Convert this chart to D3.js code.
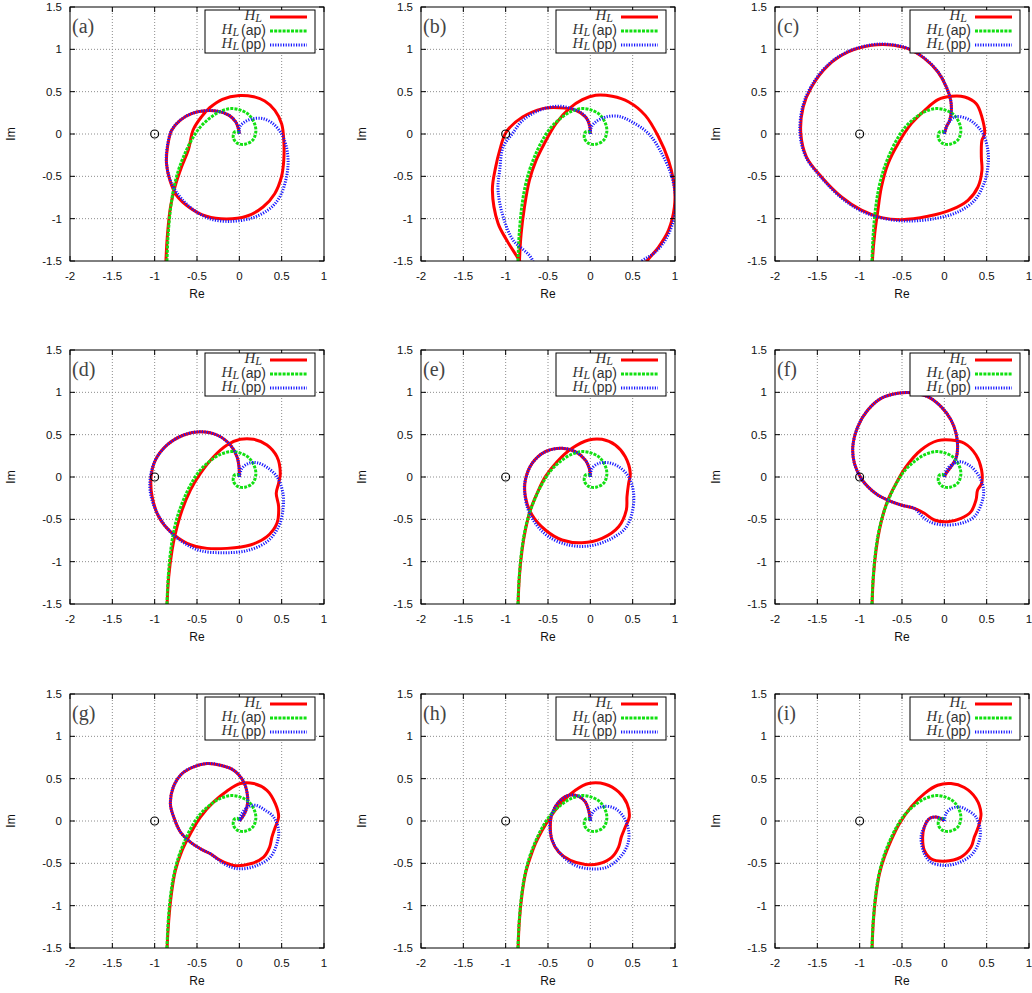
<!DOCTYPE html>
<html>
<head>
<meta charset="utf-8">
<script src="https://cdn.jsdelivr.net/npm/d3@7"></script>
<style>
  body { margin: 0; background: #fff; }
  svg { display: block; }
</style>
</head>
<body>
<div id="chart"></div>
<script>
// Axis ticks
const xTicks = [-2, -1.5, -1, -0.5, 0, 0.5, 1];
const yTicks = [-1.5, -1, -0.5, 0, 0.5, 1, 1.5];
const panelLabels = ["(a)", "(b)", "(c)", "(d)", "(e)", "(f)", "(g)", "(h)", "(i)"];

// H_L(ap) - same in every panel
const apCurve = [[-0.86,-1.65],[-0.855,-1.5],[-0.84,-1.18],[-0.81,-0.86],[-0.77,-0.62],[-0.72,-0.43],[-0.66,-0.27],[-0.58,-0.1],[-0.48,0.06],[-0.37,0.17],[-0.24,0.26],[-0.1,0.3],[0.02,0.28],[0.12,0.22],[0.18,0.12],[0.195,0.03],[0.16,-0.07],[0.07,-0.12],[-0.02,-0.11],[-0.07,-0.05],[-0.06,0.02],[-0.02,0.03],[0,0]];

// H_L per panel
const hlA = [[-0.87,-1.65],[-0.867,-1.5],[-0.848,-1.177],[-0.813,-0.862],[-0.761,-0.626],[-0.683,-0.39],[-0.6,-0.18],[-0.545,0.05],[-0.45,0.2],[-0.35,0.31],[-0.2,0.41],[0,0.455],[0.17,0.44],[0.3,0.39],[0.42,0.28],[0.5,0.12],[0.525,-0.075],[0.525,-0.31],[0.497,-0.508],[0.418,-0.705],[0.28,-0.862],[0.084,-0.972],[-0.152,-1.004],[-0.388,-0.972],[-0.585,-0.87],[-0.742,-0.724],[-0.82,-0.547],[-0.86,-0.35],[-0.848,-0.154],[-0.8,0.043],[-0.7,0.161],[-0.565,0.24],[-0.41,0.275],[-0.26,0.27],[-0.12,0.22],[-0.042,0.142],[-0.011,0.063],[0,0.004]];
const hlB = [[-0.84,-1.65],[-0.837,-1.5],[-0.817,-1.177],[-0.778,-0.862],[-0.72,-0.547],[-0.641,-0.311],[-0.544,-0.114],[-0.407,0.122],[-0.25,0.3],[-0.094,0.405],[0.063,0.457],[0.258,0.445],[0.454,0.378],[0.649,0.22],[0.806,-0.035],[0.923,-0.311],[0.993,-0.626],[0.993,-0.862],[0.923,-1.138],[0.806,-1.335],[0.669,-1.5],[0.5,-1.75],[-0.2,-2.2],[-0.7,-1.75],[-0.835,-1.5],[-0.99,-1.25],[-1.09,-1.055],[-1.157,-0.66],[-1.12,-0.4],[-1.07,-0.19],[-0.993,0.024],[-0.8,0.2],[-0.563,0.3],[-0.368,0.31],[-0.172,0.28],[-0.055,0.2],[-0.008,0.102],[0,0]];
const hlC = [[-0.85,-1.65],[-0.849,-1.5],[-0.822,-1.177],[-0.79,-0.94],[-0.743,-0.626],[-0.665,-0.35],[-0.547,-0.114],[-0.39,0.122],[-0.232,0.28],[-0.075,0.405],[0.083,0.445],[0.24,0.437],[0.377,0.358],[0.444,0.2],[0.476,0.004],[0.444,-0.075],[0.437,-0.27],[0.444,-0.43],[0.397,-0.626],[0.279,-0.783],[0.083,-0.894],[-0.193,-0.972],[-0.507,-1.012],[-0.743,-0.988],[-0.979,-0.9],[-1.215,-0.744],[-1.451,-0.508],[-1.628,-0.272],[-1.695,0.004],[-1.667,0.319],[-1.569,0.555],[-1.372,0.811],[-1.136,0.969],[-0.861,1.047],[-0.665,1.055],[-0.429,1.008],[-0.232,0.89],[-0.075,0.732],[0.024,0.555],[0.075,0.398],[0.083,0.28],[0.063,0.161],[0.024,0.083],[0,0]];
const hlD = [[-0.855,-1.65],[-0.853,-1.5],[-0.834,-1.177],[-0.794,-0.862],[-0.755,-0.665],[-0.676,-0.39],[-0.578,-0.154],[-0.46,0.043],[-0.303,0.24],[-0.145,0.378],[0.012,0.445],[0.169,0.445],[0.326,0.378],[0.444,0.24],[0.484,0.043],[0.464,-0.075],[0.436,-0.193],[0.464,-0.35],[0.444,-0.547],[0.326,-0.705],[0.13,-0.803],[-0.145,-0.843],[-0.381,-0.843],[-0.617,-0.783],[-0.814,-0.646],[-0.952,-0.469],[-1.03,-0.232],[-1.042,0.004],[-0.991,0.2],[-0.853,0.378],[-0.657,0.496],[-0.46,0.535],[-0.263,0.496],[-0.106,0.378],[-0.028,0.24],[-0.004,0.122],[0,0]];
const hlE = [[-0.855,-1.65],[-0.853,-1.5],[-0.838,-1.177],[-0.806,-0.862],[-0.767,-0.626],[-0.708,-0.39],[-0.629,-0.193],[-0.531,0.004],[-0.393,0.181],[-0.216,0.339],[-0.02,0.437],[0.138,0.445],[0.295,0.378],[0.413,0.24],[0.472,0.043],[0.452,-0.075],[0.433,-0.232],[0.425,-0.39],[0.334,-0.587],[0.138,-0.724],[-0.098,-0.776],[-0.334,-0.744],[-0.531,-0.626],[-0.688,-0.449],[-0.767,-0.232],[-0.767,-0.035],[-0.688,0.161],[-0.531,0.299],[-0.334,0.339],[-0.177,0.299],[-0.059,0.2],[-0.012,0.102],[0,0]];
const hlF = [[-0.855,-1.65],[-0.853,-1.5],[-0.838,-1.177],[-0.806,-0.862],[-0.767,-0.626],[-0.708,-0.39],[-0.649,-0.232],[-0.57,-0.075],[-0.452,0.122],[-0.275,0.319],[-0.079,0.429],[0.079,0.437],[0.236,0.398],[0.374,0.26],[0.44,0.083],[0.44,-0.075],[0.393,-0.154],[0.374,-0.272],[0.315,-0.409],[0.197,-0.488],[0.039,-0.528],[-0.118,-0.508],[-0.236,-0.429],[-0.354,-0.37],[-0.511,-0.331],[-0.669,-0.272],[-0.786,-0.213],[-0.904,-0.114],[-0.983,-0.016],[-1.062,0.161],[-1.081,0.358],[-1.022,0.594],[-0.904,0.791],[-0.747,0.929],[-0.551,0.988],[-0.393,0.996],[-0.197,0.949],[-0.039,0.831],[0.079,0.673],[0.138,0.516],[0.157,0.358],[0.138,0.22],[0.079,0.122],[0.02,0.043],[0,0]];
const hlG = [[-0.855,-1.65],[-0.853,-1.5],[-0.834,-1.176],[-0.802,-0.86],[-0.755,-0.584],[-0.676,-0.347],[-0.578,-0.15],[-0.46,0.047],[-0.303,0.225],[-0.145,0.355],[0.012,0.442],[0.169,0.442],[0.326,0.363],[0.425,0.205],[0.464,0.047],[0.425,-0.071],[0.385,-0.19],[0.358,-0.308],[0.287,-0.426],[0.13,-0.505],[-0.067,-0.525],[-0.224,-0.466],[-0.342,-0.387],[-0.46,-0.328],[-0.578,-0.249],[-0.696,-0.13],[-0.775,0.047],[-0.814,0.2],[-0.78,0.4],[-0.676,0.561],[-0.539,0.64],[-0.381,0.679],[-0.224,0.659],[-0.067,0.6],[0.051,0.462],[0.098,0.284],[0.09,0.166],[0.051,0.067],[0,0]];
const hlH = [[-0.855,-1.65],[-0.853,-1.5],[-0.838,-1.176],[-0.806,-0.86],[-0.767,-0.624],[-0.708,-0.426],[-0.649,-0.268],[-0.57,-0.111],[-0.472,0.047],[-0.334,0.225],[-0.177,0.363],[-0.02,0.442],[0.177,0.434],[0.334,0.343],[0.433,0.205],[0.46,0.047],[0.413,-0.071],[0.366,-0.19],[0.334,-0.308],[0.256,-0.426],[0.098,-0.505],[-0.059,-0.513],[-0.236,-0.466],[-0.374,-0.367],[-0.452,-0.229],[-0.472,-0.071],[-0.452,0.087],[-0.374,0.225],[-0.256,0.304],[-0.138,0.292],[-0.059,0.225],[-0.02,0.126],[0,0]];
const hlI = [[-0.855,-1.65],[-0.853,-1.5],[-0.838,-1.176],[-0.806,-0.86],[-0.767,-0.624],[-0.708,-0.426],[-0.629,-0.229],[-0.531,-0.032],[-0.393,0.166],[-0.236,0.324],[-0.079,0.422],[0.079,0.442],[0.236,0.395],[0.374,0.265],[0.433,0.087],[0.401,-0.071],[0.354,-0.19],[0.315,-0.308],[0.197,-0.426],[0,-0.474],[-0.157,-0.446],[-0.236,-0.347],[-0.256,-0.19],[-0.236,-0.071],[-0.177,0.028],[-0.098,0.047],[-0.039,0.028],[0,0]];

// H_L(pp) per panel
const ppA = [[0,0],[0.005,0.083],[0.064,0.142],[0.162,0.181],[0.28,0.181],[0.398,0.122],[0.497,0.004],[0.556,-0.154],[0.576,-0.35],[0.548,-0.547],[0.477,-0.744],[0.36,-0.882],[0.162,-0.988],[-0.074,-1.031],[-0.31,-1.012],[-0.506,-0.921],[-0.683,-0.764],[-0.8,-0.587],[-0.86,-0.35],[-0.852,-0.154],[-0.8,0.043],[-0.7,0.161],[-0.565,0.24],[-0.41,0.275],[-0.26,0.27],[-0.12,0.22],[-0.042,0.142],[-0.011,0.063],[0,0.004]];
const ppB = [[0,0],[0.012,0.083],[0.063,0.142],[0.18,0.2],[0.336,0.209],[0.493,0.142],[0.688,0.004],[0.845,-0.232],[0.962,-0.508],[1.009,-0.783],[0.982,-1.02],[0.884,-1.256],[0.747,-1.413],[0.61,-1.5],[0.4,-1.75],[-0.2,-2.1],[-0.6,-1.75],[-0.7,-1.46],[-0.914,-1.25],[-1.03,-0.977],[-1.09,-0.66],[-1.07,-0.425],[-1.03,-0.154],[-0.915,0.012],[-0.8,0.16],[-0.6,0.28],[-0.407,0.327],[-0.25,0.31],[-0.094,0.24],[-0.023,0.142],[0,0.02]];
const ppC = [[0,0],[0.043,0.122],[0.122,0.2],[0.24,0.193],[0.358,0.122],[0.456,0.004],[0.515,-0.193],[0.515,-0.39],[0.468,-0.587],[0.358,-0.783],[0.161,-0.921],[-0.114,-1.0],[-0.429,-1.028],[-0.704,-1.0],[-0.979,-0.91],[-1.215,-0.754],[-1.451,-0.518],[-1.635,-0.272],[-1.705,0.004],[-1.675,0.319],[-1.575,0.56],[-1.375,0.818],[-1.136,0.975],[-0.861,1.053],[-0.665,1.06],[-0.429,1.012],[-0.232,0.894],[-0.075,0.735],[0.024,0.555],[0.075,0.398],[0.083,0.28],[0.063,0.161],[0.024,0.083],[0,0]];
const ppD = [[0,0],[0.031,0.102],[0.11,0.161],[0.208,0.169],[0.326,0.114],[0.444,0.004],[0.515,-0.193],[0.515,-0.39],[0.464,-0.587],[0.326,-0.764],[0.09,-0.87],[-0.185,-0.894],[-0.46,-0.87],[-0.676,-0.764],[-0.853,-0.606],[-0.979,-0.409],[-1.05,-0.193],[-1.05,0.004],[-0.991,0.2],[-0.853,0.378],[-0.657,0.496],[-0.46,0.535],[-0.263,0.496],[-0.106,0.378],[-0.028,0.24],[-0.004,0.122],[0,0]];
const ppE = [[0,0],[0.02,0.102],[0.098,0.161],[0.216,0.169],[0.334,0.122],[0.452,0.004],[0.511,-0.193],[0.492,-0.429],[0.413,-0.606],[0.216,-0.744],[-0.02,-0.815],[-0.256,-0.803],[-0.492,-0.705],[-0.649,-0.547],[-0.747,-0.35],[-0.779,-0.114],[-0.767,-0.035],[-0.688,0.161],[-0.531,0.299],[-0.334,0.339],[-0.177,0.299],[-0.059,0.2],[-0.012,0.102],[0,0]];
const ppF = [[0,0],[0.039,0.102],[0.118,0.161],[0.197,0.181],[0.315,0.122],[0.413,0.004],[0.464,-0.154],[0.44,-0.311],[0.354,-0.469],[0.197,-0.547],[0,-0.567],[-0.177,-0.528],[-0.275,-0.449],[-0.354,-0.37],[-0.511,-0.331],[-0.669,-0.272],[-0.786,-0.213],[-0.904,-0.114],[-0.983,-0.016],[-1.062,0.161],[-1.081,0.358],[-1.022,0.594],[-0.904,0.791],[-0.747,0.929],[-0.551,0.988],[-0.393,0.996],[-0.197,0.949],[-0.039,0.831],[0.079,0.673],[0.138,0.516],[0.157,0.358],[0.138,0.22],[0.079,0.122],[0.02,0.043],[0,0]];
const ppG = [[0,0],[0.031,0.087],[0.09,0.158],[0.189,0.186],[0.307,0.126],[0.405,0.047],[0.464,-0.111],[0.444,-0.268],[0.366,-0.426],[0.208,-0.525],[0.012,-0.565],[-0.145,-0.525],[-0.263,-0.446],[-0.342,-0.387],[-0.46,-0.328],[-0.578,-0.249],[-0.696,-0.13],[-0.775,0.047],[-0.814,0.2],[-0.78,0.4],[-0.676,0.561],[-0.539,0.64],[-0.381,0.679],[-0.224,0.659],[-0.067,0.6],[0.051,0.462],[0.098,0.284],[0.09,0.166],[0.051,0.067],[0,0]];
const ppH = [[0,0],[0.02,0.087],[0.079,0.146],[0.177,0.174],[0.295,0.146],[0.393,0.047],[0.452,-0.111],[0.444,-0.268],[0.354,-0.426],[0.197,-0.545],[0,-0.565],[-0.177,-0.525],[-0.315,-0.426],[-0.433,-0.268],[-0.48,-0.071],[-0.452,0.087],[-0.374,0.225],[-0.256,0.304],[-0.138,0.292],[-0.059,0.225],[-0.02,0.126],[0,0]];
const ppI = [[0,0],[0.02,0.087],[0.079,0.146],[0.177,0.166],[0.275,0.126],[0.374,0.047],[0.425,-0.111],[0.401,-0.268],[0.315,-0.407],[0.157,-0.497],[0,-0.525],[-0.157,-0.486],[-0.236,-0.387],[-0.275,-0.19],[-0.236,-0.071],[-0.177,0.028],[-0.098,0.047],[-0.039,0.028],[0,0]];

const hlSeries = [hlA, hlB, hlC, hlD, hlE, hlF, hlG, hlH, hlI];
const ppSeries = [ppA, ppB, ppC, ppD, ppE, ppF, ppG, ppH, ppI];

// Layout
const width = 1032;
const height = 993;
const colX = [70, 421, 775];
const rowY = [7, 350, 694];
const size = 254;
const sans = "'Liberation Sans', Arial, sans-serif";
const serif = "'Liberation Serif', 'DejaVu Serif', serif";

const styles = {
  hl: { color: "#ff0000", dash: null, w: 3 },
  ap: { color: "#11e011", dash: "3,1.2", w: 3 },
  pp: { color: "#1a1aff", dash: "1.2,1.4", w: 3 },
};

const svg = d3.select("#chart").append("svg").attr("width", width).attr("height", height);
svg.append("rect").attr("width", width).attr("height", height).attr("fill", "#fff");

const x = d3.scaleLinear().domain([-2, 1]).range([0, size]);
const y = d3.scaleLinear().domain([-1.5, 1.5]).range([size, 0]);
const line = d3.line().x((d) => x(d[0])).y((d) => y(d[1])).curve(d3.curveCatmullRom.alpha(0.5));

panelLabels.forEach((label, i) => {
  const col = i % 3;
  const row = Math.floor(i / 3);
  const g = svg.append("g").attr("transform", `translate(${colX[col]},${rowY[row]})`);

  // Grid
  g.selectAll(".vg").data(xTicks.slice(1, -1)).join("line")
    .attr("x1", (d) => x(d)).attr("x2", (d) => x(d)).attr("y1", 0).attr("y2", size)
    .attr("stroke", "#8c8c8c").attr("stroke-width", 1).attr("stroke-dasharray", "1,2");
  g.selectAll(".hg").data(yTicks.slice(1, -1)).join("line")
    .attr("x1", 0).attr("x2", size).attr("y1", (d) => y(d)).attr("y2", (d) => y(d))
    .attr("stroke", "#8c8c8c").attr("stroke-width", 1).attr("stroke-dasharray", "1,2");

  // Curves clipped to the plot area
  const clipId = `clip-${i}`;
  g.append("clipPath").attr("id", clipId).append("rect").attr("width", size).attr("height", size);
  const plot = g.append("g").attr("clip-path", `url(#${clipId})`);
  [
    [hlSeries[i], styles.hl],
    [apCurve, styles.ap],
    [ppSeries[i], styles.pp],
  ].forEach(([data, s]) => {
    plot.append("path").attr("d", line(data)).attr("fill", "none")
      .attr("stroke", s.color).attr("stroke-width", s.w)
      .attr("stroke-dasharray", s.dash).attr("stroke-linejoin", "round");
  });

  // Critical point (-1, 0)
  g.append("circle").attr("cx", x(-1)).attr("cy", y(0)).attr("r", 4)
    .attr("fill", "none").attr("stroke", "#000").attr("stroke-width", 1.1);
  g.append("circle").attr("cx", x(-1)).attr("cy", y(0)).attr("r", 0.7).attr("fill", "#000");

  // Border and ticks
  g.append("rect").attr("width", size).attr("height", size)
    .attr("fill", "none").attr("stroke", "#000").attr("stroke-width", 1);
  xTicks.forEach((t) => {
    g.append("line").attr("x1", x(t)).attr("x2", x(t)).attr("y1", size).attr("y2", size - 5).attr("stroke", "#000");
    g.append("line").attr("x1", x(t)).attr("x2", x(t)).attr("y1", 0).attr("y2", 5).attr("stroke", "#000");
  });
  yTicks.forEach((t) => {
    g.append("line").attr("x1", 0).attr("x2", 5).attr("y1", y(t)).attr("y2", y(t)).attr("stroke", "#000");
    g.append("line").attr("x1", size).attr("x2", size - 5).attr("y1", y(t)).attr("y2", y(t)).attr("stroke", "#000");
  });

  // Tick labels
  g.selectAll(".xl").data(xTicks).join("text")
    .attr("x", (d) => x(d)).attr("y", size + 19).attr("text-anchor", "middle")
    .attr("font-family", sans).attr("font-size", 11.5).attr("fill", "#111")
    .text((d) => d);
  g.selectAll(".yl").data(yTicks).join("text")
    .attr("x", -8).attr("y", (d) => y(d)).attr("dy", "0.35em").attr("text-anchor", "end")
    .attr("font-family", sans).attr("font-size", 11.5).attr("fill", "#111")
    .text((d) => d);

  // Axis titles
  g.append("text").attr("x", size / 2).attr("y", size + 37).attr("text-anchor", "middle")
    .attr("font-family", sans).attr("font-size", 12).attr("fill", "#111").text("Re");
  g.append("text").attr("transform", `translate(-55,${size / 2}) rotate(-90)`).attr("text-anchor", "middle")
    .attr("font-family", sans).attr("font-size", 12).attr("fill", "#111").text("Im");

  // Legend
  const lg = g.append("g");
  lg.append("rect").attr("x", 135).attr("y", 3).attr("width", 110).attr("height", 43)
    .attr("fill", "#fff").attr("stroke", "#000").attr("stroke-width", 1);
  const entries = [
    { suffix: "", s: styles.hl, cy: 10, tx: 192 },
    { suffix: "(ap)", s: styles.ap, cy: 24, tx: 196 },
    { suffix: "(pp)", s: styles.pp, cy: 38, tx: 196 },
  ];
  entries.forEach((e) => {
    lg.append("line").attr("x1", 200).attr("x2", 237).attr("y1", e.cy).attr("y2", e.cy)
      .attr("stroke", e.s.color).attr("stroke-width", e.s.w).attr("stroke-dasharray", e.s.dash);
    const t = lg.append("text").attr("x", e.tx).attr("y", e.cy + 3).attr("text-anchor", "end").attr("fill", "#333");
    t.append("tspan").attr("font-family", serif).attr("font-style", "italic").attr("font-size", 15).text("H");
    t.append("tspan").attr("font-family", serif).attr("font-style", "italic").attr("font-size", 12).attr("dy", 2).text("L");
    if (e.suffix) {
      t.append("tspan").attr("font-family", sans).attr("font-size", 14).attr("dy", -1.5).attr("dx", 2).text(e.suffix);
    }
  });

  // Panel label
  g.append("text").attr("x", 2).attr("y", 26).attr("font-family", serif).attr("font-size", 20)
    .attr("fill", "#444").text(label);
});
</script>
</body>
</html>
